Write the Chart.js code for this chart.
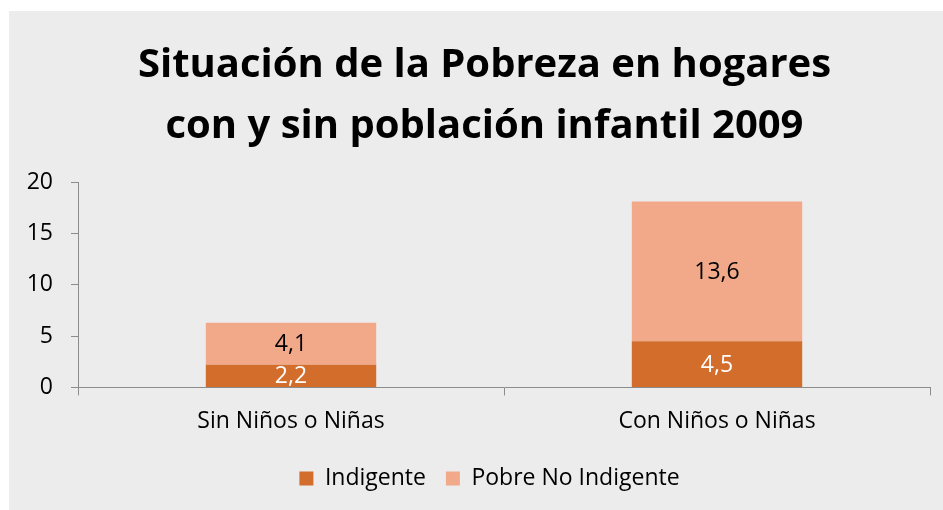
<!DOCTYPE html>
<html>
<head>
<meta charset="utf-8">
<script src="https://cdn.jsdelivr.net/npm/chart.js@4/dist/chart.umd.min.js"></script>
<style>
  html, body { margin: 0; padding: 0; background: #ffffff; }
  #wrap { position: absolute; left: 9px; top: 11px; width: 934px; height: 499px; background: #ececec; }
  canvas { display: block; }
</style>
</head>
<body>
<div id="wrap"><canvas id="c" width="934" height="499"></canvas></div>
<script>
const categories = ["Sin Niños o Niñas", "Con Niños o Niñas"];
const indigente = [2.2, 4.5];
const pobreNoIndigente = [4.1, 13.6];
const seriesNames = ["Indigente", "Pobre No Indigente"];
const titleLines = ["Situación de la Pobreza en hogares", "con y sin población infantil 2009"];
const yMin = 0, yMax = 20, yStep = 5;

const FONT = "'Open Sans', 'Liberation Sans', sans-serif";

const labelPlugin = {
  id: 'barLabels',
  afterDatasetsDraw(chart) {
    const ctx = chart.ctx;
    ctx.save();
    ctx.font = "23px " + FONT;
    ctx.textAlign = 'center';
    ctx.textBaseline = 'middle';
    chart.data.datasets.forEach((ds, di) => {
      const meta = chart.getDatasetMeta(di);
      meta.data.forEach((bar, i) => {
        const v = ds.data[i];
        const p = bar.getProps(['x', 'y', 'base'], true);
        ctx.fillStyle = ds.labelColor;
        ctx.fillText(String(v).replace('.', ','), p.x, (p.y + p.base) / 2 + 1);
      });
    });
    ctx.restore();
  }
};

// shift title and legend centering slightly right, as in the reference
const shiftPlugin = {
  id: 'shiftBoxes',
  afterLayout(chart) {
    if (chart.titleBlock) chart.titleBlock.left += 30;
    if (chart.legend) chart.legend.left += 40;
  }
};

new Chart(document.getElementById('c'), {
  type: 'bar',
  data: {
    labels: categories,
    datasets: [
      { label: seriesNames[0], data: indigente, backgroundColor: '#d36d2b', labelColor: '#ffffff',
        barPercentage: 0.4, categoryPercentage: 1.0 },
      { label: seriesNames[1], data: pobreNoIndigente, backgroundColor: '#f2a98a', labelColor: '#000000',
        barPercentage: 0.4, categoryPercentage: 1.0 }
    ]
  },
  options: {
    responsive: false,
    animation: false,
    layout: { padding: { left: 0, right: 13, top: 24, bottom: 10 } },
    plugins: {
      title: {
        display: true,
        text: titleLines,
        color: '#000000',
        font: { family: FONT, size: 40, weight: 'bold', lineHeight: 1.525 },
        padding: { top: 0, bottom: 25 }
      },
      legend: {
        position: 'bottom',
        labels: {
          color: '#000000',
          font: { family: FONT, size: 23 },
          boxWidth: 14, boxHeight: 14, padding: 20
        }
      },
      tooltip: { enabled: false }
    },
    scales: {
      x: {
        stacked: true,
        grid: { drawOnChartArea: false, drawTicks: true, tickLength: 8, color: '#8c8c8c' },
        border: { color: '#8c8c8c', width: 1 },
        ticks: { color: '#000000', font: { family: FONT, size: 23 }, padding: 12 }
      },
      y: {
        stacked: true,
        min: yMin, max: yMax,
        afterFit(scale) { scale.width = 69; },
        grid: { drawOnChartArea: false, drawTicks: true, tickLength: 7, color: '#8c8c8c' },
        border: { color: '#8c8c8c', width: 1 },
        ticks: { stepSize: yStep, color: '#000000', font: { family: FONT, size: 23 }, padding: 18 }
      }
    }
  },
  plugins: [labelPlugin, shiftPlugin]
});
</script>
</body>
</html>
